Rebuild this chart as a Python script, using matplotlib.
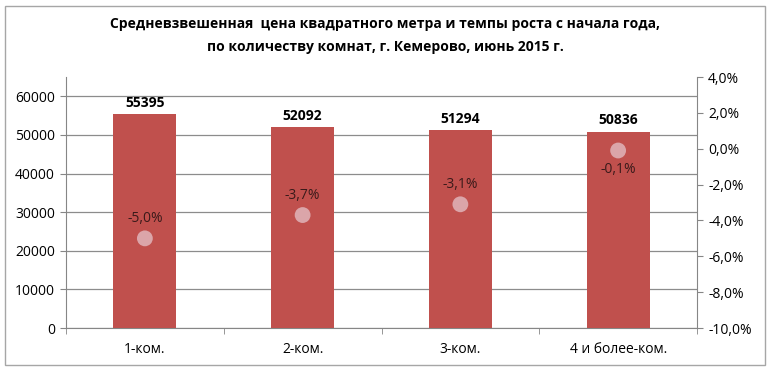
import matplotlib.pyplot as plt
import matplotlib.patches as mpatches
import numpy as np

plt.rcParams['font.family'] = ['Open Sans', 'DejaVu Sans']

categories = ['1-ком.', '2-ком.', '3-ком.', '4 и более-ком.']
prices = [55395, 52092, 51294, 50836]
growth = [-5.0, -3.7, -3.1, -0.1]
growth_labels = ['-5,0%', '-3,7%', '-3,1%', '-0,1%']

fig = plt.figure(figsize=(7.7, 3.71), dpi=100)
fig.patches.append(mpatches.Rectangle((5 / 770, 6 / 371), 760 / 770, 359 / 371,
                                      transform=fig.transFigure, fill=False,
                                      edgecolor='#a6a6a6', linewidth=1))

ax = fig.add_axes([66 / 770, 43 / 371, 631 / 770, 251 / 371])
x = np.arange(len(categories))

ax.bar(x, prices, width=0.4, color='#c0504d', zorder=3)
for xi, v in zip(x, prices):
    ax.text(xi, v + 1100, str(v), ha='center', va='bottom', fontsize=10,
            fontweight='bold', color='black')

ax.set_xlim(-0.5, len(categories) - 0.5)
ax.set_ylim(0, 65000)
ax.set_yticks(np.arange(0, 60001, 10000))
ax.tick_params(axis='y', labelsize=10, length=4, color='#868686', pad=4)
ax.set_xticks(x)
ax.set_xticklabels(categories, fontsize=10)
ax.set_xticks(np.arange(-0.5, len(categories), 1), minor=True)
ax.tick_params(axis='x', which='major', length=0, pad=10)
ax.tick_params(axis='x', which='minor', length=4, color='#868686')
ax.yaxis.grid(True, color='#8c8c8c', linewidth=0.9, zorder=0)
ax.set_axisbelow(True)
for s in ['top', 'right']:
    ax.spines[s].set_visible(False)
ax.spines['left'].set_color('#868686')
ax.spines['bottom'].set_color('#868686')

ax2 = ax.twinx()
ax2.set_ylim(-10, 4)
ax2.set_yticks(np.arange(-10, 4.1, 2))
ax2.set_yticklabels([f'{t:.1f}%'.replace('.', ',') for t in np.arange(-10, 4.1, 2)])
ax2.tick_params(axis='y', labelsize=10, length=4, color='#868686', pad=4)
for s in ['top', 'left', 'bottom']:
    ax2.spines[s].set_visible(False)
ax2.spines['right'].set_color('#868686')

ax2.scatter(x, growth, s=130, color='#dba5a9', edgecolor='none', zorder=5)
for xi, g, lab in zip(x, growth, growth_labels):
    if g > -1:
        ax2.text(xi, g - 0.65, lab, ha='center', va='top', fontsize=10, color='#3a1a1a')
    else:
        ax2.text(xi, g + 0.7, lab, ha='center', va='bottom', fontsize=10, color='#3a1a1a')

fig.text(0.5, 0.935, 'Средневзвешенная  цена квадратного метра и темпы роста с начала года,',
         ha='center', va='center', fontsize=10, fontweight='bold')
fig.text(0.5, 0.872, 'по количеству комнат, г. Кемерово, июнь 2015 г.',
         ha='center', va='center', fontsize=10, fontweight='bold')

plt.savefig('out.png', dpi=100)
plt.close()
